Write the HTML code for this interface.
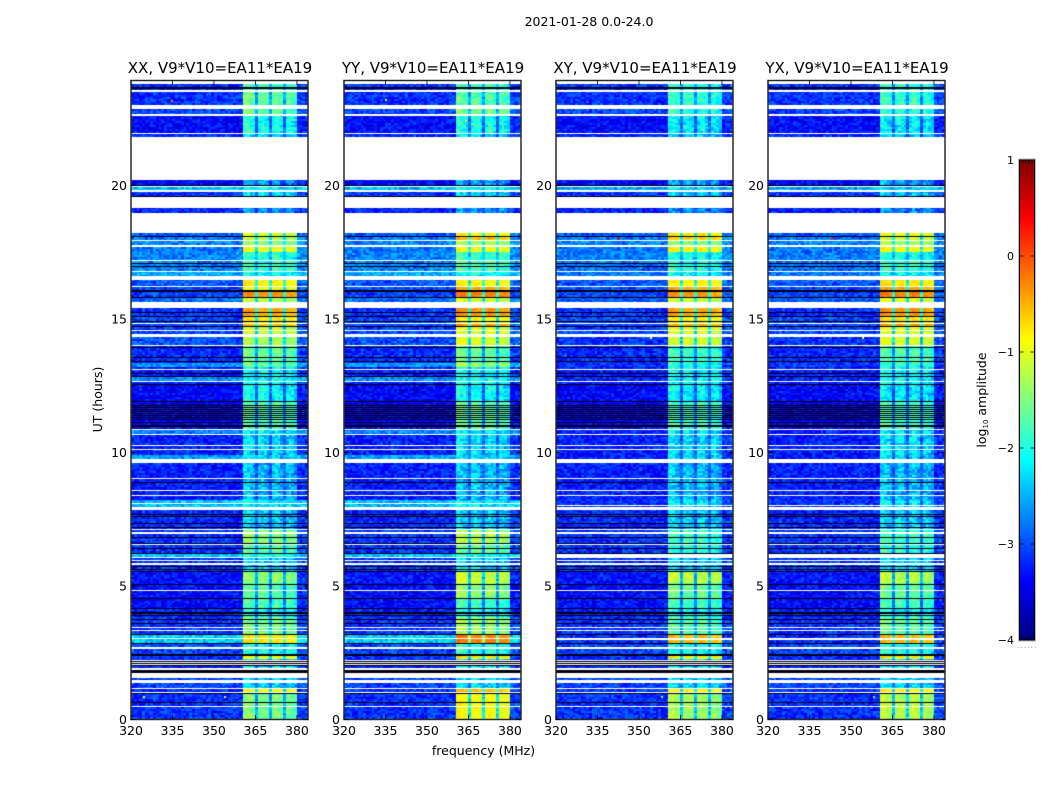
<!DOCTYPE html>
<html lang="en">
<head>
<meta charset="utf-8">
<title>2021-01-28 amplitude waterfall</title>
<style>
html,body{margin:0;padding:0;background:#fff;}
#figure{position:relative;width:1050px;height:800px;overflow:hidden;background:#fff;font-family:"DejaVu Sans","Liberation Sans",sans-serif;}
#figure canvas{position:absolute;display:block;}
#overlay{position:absolute;left:0;top:0;}
#overlay text{font-family:"DejaVu Sans","Liberation Sans",sans-serif;fill:#000;}
</style>
</head>
<body>
<div id="figure">
<svg id="overlay" width="1050" height="800" viewBox="0 0 1050 800">
<defs><linearGradient id="jetGradient" x1="0" y1="1" x2="0" y2="0"></linearGradient></defs>
<text x="589" y="26" font-size="12.5" text-anchor="middle">2021-01-28 0.0-24.0</text>
<text x="483.5" y="755" font-size="12.5" text-anchor="middle">frequency (MHz)</text>
<text transform="translate(102,399.5) rotate(-90)" font-size="12.5" text-anchor="middle">UT (hours)</text>
<text transform="translate(986,400) rotate(-90)" font-size="12.5" text-anchor="middle">log<tspan font-size="7" dy="2">10</tspan><tspan dy="-2"> amplitude</tspan></text>
<text x="1017" y="648" font-size="7" letter-spacing="1.2" fill="#777" style="fill:#777">......</text>
</svg>
</div>
<script>
/* ---- shared time axis: upper hour of every observing band ---- */
const bandTop = [1.03,1.14,1.78,1.98,2.27,2.39,2.85,3.16,3.84,4.14,4.55,5.11,5.54,6.09,6.24,6.57,7.10,7.96,8.22,9.61,9.76,9.91,10.69,10.88,11.89,12.53,12.65,12.84,13.19,13.36,13.99,14.34,14.70,14.86,15.09,15.64,15.84,16.05,16.25,16.62,16.77,17.21,17.51,17.69,17.92,18.07,18.22,18.97,19.15,19.58,19.76,19.94,20.21,21.81,21.93,22.61,22.87,23.51,24];
/* ---- background log10 amplitude per band ---- */
const bgParallel = [-3.1,-3.1,-3.0,-3.2,-3.2,-3.1,-3.0,-2.3,-3.1,-3.2,-3.3,-3.3,-3.25,-3.1,-2.35,-3.1,-3.1,-3.15,-2.4,-3.2,-3.2,-2.55,-3.2,-2.7,-3.4,-3.35,-3.2,-2.65,-3.2,-2.6,-3.15,-2.95,-3.0,-3.0,-3.0,-3.1,-2.8,-3.0,-3.0,-2.9,-2.5,-2.7,-2.7,-2.75,-2.7,-2.75,-2.9,-3.0,-3.2,-3.0,-3.1,-2.4,-3.35,-3.0,-3.15,-3.3,-3.0,-3.1,-3.1];
const bgCross = [-3.1,-3.1,-3.0,-3.2,-3.2,-3.1,-3.0,-3.1,-3.1,-3.2,-3.3,-3.3,-3.25,-3.1,-3.1,-3.1,-3.1,-3.15,-3.1,-3.2,-3.2,-3.2,-3.2,-3.2,-3.4,-3.35,-3.2,-3.15,-3.2,-3.1,-3.15,-3.1,-3.0,-3.0,-3.0,-3.1,-2.9,-3.0,-3.0,-2.9,-2.75,-2.8,-2.7,-2.75,-2.7,-2.75,-2.9,-3.0,-3.2,-3.0,-3.1,-2.5,-3.35,-3.0,-3.15,-3.3,-3.0,-3.1,-3.1];
/* ---- log10 amplitude inside the bright 360-380 MHz windows, per band ---- */
const rfiXX = [-1.6,-1.0,-2.4,-1.9,-2.4,-1.0,-2.1,-0.8,-1.6,-2.2,-1.9,-1.8,-1.5,-2.4,-2.1,-1.8,-1.5,-2.45,-2.3,-2.55,-2.55,-2.4,-2.4,-2.3,-1.8,-2.2,-2.1,-2.2,-2.2,-1.7,-1.7,-1.35,-1.2,-0.6,-0.8,-0.5,-1.3,-0.4,-1.0,-0.85,-2.2,-1.9,-2.0,-1.0,-1.5,-1.3,-1.1,-3.0,-2.8,-3.0,-2.4,-2.3,-2.7,-3.0,-2.4,-2.1,-1.7,-1.7,-1.9];
const rfiYY = [-0.95,-0.6,-2.4,-1.9,-2.4,-0.8,-2.0,-0.3,-1.4,-2.2,-1.9,-1.5,-1.2,-2.4,-2.1,-1.7,-1.3,-2.45,-2.3,-2.55,-2.55,-2.4,-2.4,-2.3,-1.7,-2.2,-2.1,-2.2,-2.2,-1.4,-1.7,-1.1,-1.1,-0.4,-0.9,-0.4,-1.2,-0.3,-0.5,-0.9,-2.2,-1.8,-1.9,-1.0,-1.35,-0.6,-0.9,-3.0,-2.8,-3.0,-2.4,-2.3,-2.7,-3.0,-2.4,-2.1,-1.6,-1.8,-1.9];
const rfiXY = [-1.4,-0.9,-2.4,-1.9,-2.4,-0.85,-2.1,-0.6,-1.8,-2.2,-1.9,-1.7,-1.25,-2.4,-2.1,-2.0,-1.9,-2.45,-2.3,-2.55,-2.55,-2.4,-2.4,-2.3,-1.9,-2.3,-2.2,-2.2,-2.2,-2.1,-1.9,-1.15,-1.1,-0.5,-0.9,-0.5,-1.2,-0.4,-0.5,-0.9,-2.2,-2.0,-2.1,-0.9,-1.5,-0.7,-0.8,-3.0,-2.8,-3.0,-2.5,-2.4,-2.7,-3.0,-2.5,-2.3,-2.0,-2.0,-2.0];
const rfiYX = [-1.3,-0.9,-2.4,-1.9,-2.4,-0.85,-2.1,-0.6,-1.7,-2.2,-1.9,-1.7,-1.3,-2.4,-2.1,-2.0,-1.9,-2.45,-2.3,-2.55,-2.55,-2.4,-2.4,-2.3,-1.9,-2.3,-2.2,-2.2,-2.2,-2.0,-1.8,-1.1,-1.1,-0.4,-0.8,-0.4,-1.1,-0.3,-0.5,-0.8,-2.2,-1.9,-2.1,-1.0,-1.35,-1.2,-1.0,-3.0,-2.8,-3.0,-2.5,-2.4,-2.7,-3.0,-2.5,-2.3,-2.0,-2.0,-2.0];
/* ---- flagged (white) time ranges in hours ---- */
const flaggedAll = [[0.47,0.51],[1.00,1.04],[1.13,1.19],[1.37,1.47],[1.55,1.76],[1.87,1.92],[2.04,2.08],[2.10,2.15],[2.19,2.23],[2.65,2.73],[3.31,3.35],[3.42,3.45],[4.80,4.84],[5.80,5.85],[5.95,5.97],[6.55,6.59],[6.95,7.01],[7.09,7.12],[7.85,7.96],[8.38,8.41],[8.56,8.60],[9.03,9.06],[9.61,9.76],[10.09,10.13],[10.23,10.27],[10.67,10.69],[10.84,10.88],[12.64,12.68],[13.10,13.14],[13.99,14.03],[14.34,14.44],[14.56,14.60],[14.82,14.86],[15.41,15.64],[16.19,16.24],[16.47,16.62],[16.75,16.81],[17.17,17.22],[17.69,17.76],[17.92,17.96],[18.22,18.97],[19.15,19.58],[19.76,19.84],[19.94,19.97],[20.21,21.81],[21.92,21.96],[22.61,22.68],[22.87,23.01],[23.51,23.58],[23.80,24.0]];
const flaggedCross = [[2.98,3.06],[6.04,6.19],[7.99,8.04]];
const flaggedParallel = [[3.00,3.04],[6.04,6.09],[8.08,8.12]];
/* ---- near-zero (black) time ranges in hours ---- */
const darkRanges = [[0.64,0.67],[0.96,1.00],[1.76,1.82],[1.82,1.88],[2.00,2.04],[2.08,2.10],[2.15,2.19],[2.39,2.45],[2.82,2.85],[3.15,3.20],[3.60,3.62],[3.73,3.76],[3.88,3.91],[3.96,4.01],[4.14,4.19],[4.54,4.56],[5.04,5.09],[5.52,5.55],[5.60,5.64],[5.72,5.76],[6.22,6.25],[6.39,6.41],[6.59,6.61],[6.80,6.84],[7.20,7.22],[7.35,7.37],[7.58,7.61],[7.66,7.70],[8.86,8.88],[10.97,11.04],[11.10,11.16],[11.22,11.25],[11.30,11.33],[11.37,11.40],[11.45,11.48],[11.52,11.55],[11.60,11.63],[11.67,11.70],[11.76,11.79],[11.90,11.93],[12.53,12.58],[12.83,12.85],[12.97,12.99],[13.39,13.44],[13.55,13.58],[13.93,13.96],[14.71,14.74],[14.89,14.93],[15.09,15.13],[15.25,15.27],[15.80,15.84],[16.02,16.07],[16.97,17.00],[17.05,17.09],[18.07,18.10],[19.58,19.62],[19.98,20.03],[23.61,23.64],[23.68,23.70]];
/* ---- spectral windows in MHz, and their relative brightness ---- */
const spectralWindows = [[360.5,365],[366,370],[371,375],[376,380]];
const windowOffset = [0.06,0,0.04,-0.05];
/* channel-by-channel ripple across 360-380 MHz */
const bandpassRipple = [0.12,0.2,0.14,0.02,-0.1,-0.15,0.12,0.18,0.1,-0.06,-0.16,0.02,0.16,0.08,-0.05,-0.14,0.1,0.16,0.02,-0.12];
/* hand-typed texture of channel/row scatter */
const grain = [0.12,-0.21,0.05,0.28,-0.09,-0.31,0.17,0.02,-0.15,0.24,-0.04,0.09,-0.26,0.31,-0.12,0.07,-0.19,0.21,0.01,-0.28,0.14,-0.07,0.26,-0.17,0.03,0.19,-0.24,0.11,-0.02,0.29,-0.14,-0.34,0.08,0.22,-0.11,0.16,-0.05,-0.22,0.33,0.04,-0.18,0.1,-0.29,0.2,0.06,-0.13,0.25,-0.08,-0.01,0.15,-0.36,0.18,0.03,-0.2,0.27,-0.1,0.13,-0.25,0.0,0.23,-0.16,0.09,-0.06,0.3,-0.23,0.05,0.17,-0.12,-0.3,0.21,0.02,-0.07,0.26,-0.18,0.11,-0.03,0.35,-0.27,0.07,-0.15,0.19,-0.09,0.04,0.24,-0.32,0.13,-0.02,0.16,-0.21,0.08,0.28,-0.11,-0.04,0.2,-0.17,0.01,0.12,-0.26,0.22,-0.08,0.06];
/* isolated bright cells: panel, MHz, hour, log10 amplitude */
const hotCells = [[0,334.6,23.16,-0.2],[1,334.8,23.2,-0.8],[1,363.7,22.4,-0.7],[2,342.4,18.0,0.5],[2,342.4,1.33,0.7],[3,342.6,18.0,0.3],[3,342.6,1.33,0.6],[0,353.6,0.84,-1.2],[2,358,0.84,-1.6],[3,358,0.84,-1.6],[0,324.3,0.84,-1.0],[2,354,14.27,-0.9],[3,354,14.27,-0.9]];

/* ---- axes ---- */
const panelTitles = ["XX, V9*V10=EA11*EA19","YY, V9*V10=EA11*EA19","XY, V9*V10=EA11*EA19","YX, V9*V10=EA11*EA19"];
const freqTicks = [320,335,350,365,380];
const hourTicks = [0,5,10,15,20];
const colorbarTicks = [1,0,-1,-2,-3,-4];
const colorbarTickLabels = ["1","0","\u22121","\u22122","\u22123","\u22124"];

const axLeft = [131,344,556,768];
const axWidth = 177, axTop = 81, axBottom = 720;
const fMin = 320, fMax = 384, hoursPerPx = 1/26.7;
const channelStep = 0.5, timeStep = 0.075;
const vMin = -4, vMax = 1;
const cbLeft = 1019.5, cbRight = 1034.5, cbTop = 160, cbBottom = 640;

const xScale = f => (f - fMin) / (fMax - fMin) * axWidth;
const yScale = h => (axBottom - axTop) - (h / hoursPerPx) - 0.5;
const cbScale = v => cbBottom - (v - vMin) / (vMax - vMin) * (cbBottom - cbTop);
const clamp01 = v => Math.max(0, Math.min(1, v));
function jet(v){
  const n = clamp01((v - vMin) / (vMax - vMin));
  const r = clamp01(1.5 - Math.abs(4*n - 3));
  const g = clamp01(1.5 - Math.abs(4*n - 2));
  const b = clamp01(1.5 - Math.abs(4*n - 1));
  return "rgb(" + Math.round(r*255) + "," + Math.round(g*255) + "," + Math.round(b*255) + ")";
}
function grainAt(c, r, p){
  return grain[(c*c*c*7 + r*r*r*3 + c*r*13 + c*5 + r*11 + p*37) % grain.length];
}
function windowIndex(f){
  for (let w = 0; w < spectralWindows.length; w++) {
    if (f >= spectralWindows[w][0] && f < spectralWindows[w][1]) return w;
  }
  return -1;
}
function cellLevel(f, bg, rfi, c, r, p){
  const channel = Math.floor(f);
  const g = grainAt(channel, r, p);
  const inSpan = f >= spectralWindows[0][0] && f < spectralWindows[spectralWindows.length-1][1];
  if (!inSpan) return bg - 0.05 + (f >= 380 ? 0.1 : 0) + g;
  const w = windowIndex(f);
  if (w < 0) return bg + 0.4 * (rfi - bg) + g * 0.8;
  const ripple = bandpassRipple[channel - 360] || 0;
  const depth = clamp01((-0.8 - rfi) / 1.6);
  return rfi + windowOffset[w] + (ripple + g * 1.1) * (0.3 + 0.7 * depth);
}
function fillRange(ctx, range, color){
  const yA = Math.round(yScale(range[1])), yB = Math.round(yScale(range[0]));
  ctx.fillStyle = color;
  ctx.fillRect(0, yA, axWidth, Math.max(1, yB - yA));
}

const figure = document.getElementById("figure");
const overlay = document.getElementById("overlay");
const NS = "http://www.w3.org/2000/svg";
function svgNode(tag, props){
  const n = document.createElementNS(NS, tag);
  for (const k in props) n.setAttribute(k, props[k]);
  overlay.appendChild(n);
  return n;
}

const panelKeys = ["xx","yy","xy","yx"];
const panelRfi = [rfiXX, rfiYY, rfiXY, rfiYX];
const panelBg = [bgParallel, bgParallel, bgCross, bgCross];
const panelExtraFlags = [flaggedParallel, flaggedParallel, flaggedCross, flaggedCross];

panelKeys.forEach(function(key, p){
  const canvas = document.createElement("canvas");
  canvas.width = axWidth;
  canvas.height = axBottom - axTop;
  canvas.style.left = axLeft[p] + "px";
  canvas.style.top = axTop + "px";
  
  
  figure.insertBefore(canvas, overlay);
  const ctx = canvas.getContext("2d");
  ctx.fillStyle = "#fff";
  ctx.fillRect(0, 0, canvas.width, canvas.height);

  const nCols = Math.round((fMax - fMin) / channelStep);
  let h0 = 0;
  bandTop.forEach(function(top, b){
    const bg = panelBg[p][b], rfi = panelRfi[p][b];
    for (let r = Math.floor(h0 / timeStep); r * timeStep < top; r++) {
      const lo = Math.max(r * timeStep, h0), hi = Math.min((r + 1) * timeStep, top);
      const yA = Math.round(yScale(hi)), yB = Math.round(yScale(lo));
      if (yB <= yA) continue;
      for (let c = 0; c < nCols; c++) {
        const f = fMin + c * channelStep;
        const xA = Math.round(xScale(f)), xB = Math.round(xScale(f + channelStep));
        if (xB <= xA) continue;
        ctx.fillStyle = jet(cellLevel(f, bg, rfi, c, r, p));
        ctx.fillRect(xA, yA, xB - xA, yB - yA);
      }
    }
    h0 = top;
  });
  hotCells.filter(function(cell){ return cell[0] === p; }).forEach(function(cell){
    ctx.fillStyle = jet(cell[3]);
    ctx.fillRect(Math.round(xScale(cell[1])), Math.round(yScale(cell[2])) - 1, 2, 2);
  });
  darkRanges.forEach(function(range){ fillRange(ctx, range, "#000010"); });
  flaggedAll.forEach(function(range){ fillRange(ctx, range, "#ffffff"); });
  panelExtraFlags[p].forEach(function(range){ fillRange(ctx, range, "#ffffff"); });

  /* frame */
  const frame = svgNode("rect", {x: axLeft[p], y: axTop - 0.5, width: axWidth, height: axBottom - axTop, fill: "none", stroke: "#2a2a2a", "stroke-width": 1.5});
  
  

  /* panel title */
  const title = svgNode("text", {x: axLeft[p] + axWidth / 2 + 0.5, y: 73, "font-size": 15, "text-anchor": "middle"});
  title.textContent = panelTitles[p];
  
  

  /* frequency ticks */
  freqTicks.forEach(function(f){
    const x = axLeft[p] + xScale(f);
    const tickDown = svgNode("line", {x1: x, x2: x, y1: axBottom - 0.5, y2: axBottom - 5, stroke: "#000", "stroke-width": 0.8});
    
    
    const tickUp = svgNode("line", {x1: x, x2: x, y1: axTop - 0.5, y2: axTop + 4, stroke: "#000", "stroke-width": 0.8});
    
    
    const label = svgNode("text", {x: x, y: 735, "font-size": 12.5, "text-anchor": "middle"});
    label.textContent = f;
    
    
  });

  /* hour ticks */
  hourTicks.forEach(function(h){
    const y = axTop + yScale(h);
    const tickL = svgNode("line", {x1: axLeft[p], x2: axLeft[p] + 4.5, y1: y, y2: y, stroke: "#000", "stroke-width": 0.8});
    
    
    const tickR = svgNode("line", {x1: axLeft[p] + axWidth, x2: axLeft[p] + axWidth - 4.5, y1: y, y2: y, stroke: "#000", "stroke-width": 0.8});
    
    
    const label = svgNode("text", {x: axLeft[p] - 4, y: y + 4.5, "font-size": 12.5, "text-anchor": "end"});
    label.textContent = h;
    
    
  });
});

/* ---- colorbar ---- */
const gradient = document.getElementById("jetGradient");
for (let i = 0; i <= 64; i++) {
  const stop = document.createElementNS(NS, "stop");
  stop.setAttribute("offset", (i / 64 * 100) + "%");
  stop.setAttribute("stop-color", jet(vMin + (vMax - vMin) * i / 64));
  gradient.appendChild(stop);
}
const cbBody = svgNode("rect", {x: cbLeft, y: cbTop, width: cbRight - cbLeft, height: cbBottom - cbTop, fill: "url(#jetGradient)", stroke: "#000", "stroke-width": 1});


const cbOutline = svgNode("rect", {x: cbLeft - 1, y: cbTop - 1, width: cbRight - cbLeft + 2, height: cbBottom - cbTop + 2, fill: "none", stroke: "#bbb", "stroke-width": 1});


colorbarTicks.forEach(function(v, i){
  const y = cbScale(v);
  const tickA = svgNode("line", {x1: cbLeft, x2: cbLeft + 4, y1: y, y2: y, stroke: "#000", "stroke-width": 0.8});
  
  
  const tickB = svgNode("line", {x1: cbRight, x2: cbRight - 4, y1: y, y2: y, stroke: "#000", "stroke-width": 0.8});
  
  
  const label = svgNode("text", {x: 1014, y: y + 4, "font-size": 11, "text-anchor": "end"});
  label.textContent = colorbarTickLabels[i];
  
  
});
for (let i = 1; i < 5; i++) {
  const x = cbLeft + (cbRight - cbLeft) * i / 5;
  const edgeTop = svgNode("line", {x1: x, x2: x, y1: cbTop, y2: cbTop + 3.5, stroke: "#000", "stroke-width": 0.7});
  
  
  const edgeBottom = svgNode("line", {x1: x, x2: x, y1: cbBottom, y2: cbBottom - 3.5, stroke: "#000", "stroke-width": 0.7});
  
  
}
</script>
</body>
</html>
